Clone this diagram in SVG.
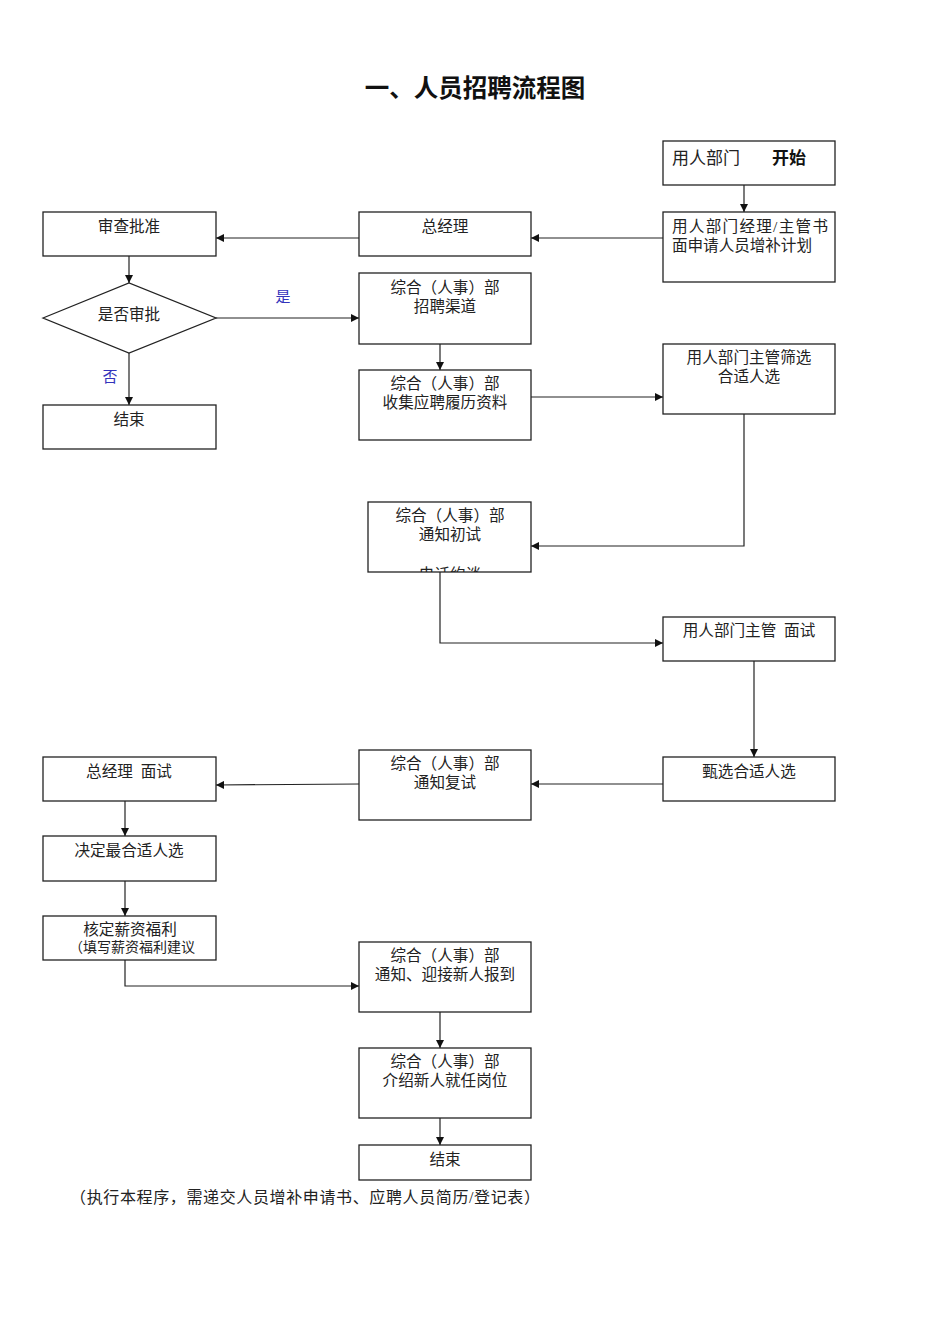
<svg xmlns="http://www.w3.org/2000/svg" width="950" height="1344" viewBox="0 0 950 1344">
<style>
.box{fill:#fff;stroke:#222;stroke-width:1.3}
.t{font-family:"Liberation Serif","Noto Sans CJK SC",serif;font-size:15.6px;fill:#222;text-anchor:middle}
.ln{fill:none;stroke:#222;stroke-width:1.2}
.lbl{font-family:"Liberation Serif","Noto Sans CJK SC",serif;font-size:15px;fill:#3333bb;text-anchor:middle}
</style>
<defs>
<marker id="ah" viewBox="0 0 10 10" refX="10" refY="5" markerWidth="8" markerHeight="8" markerUnits="userSpaceOnUse" orient="auto">
<path d="M0,0 L10,5 L0,10 z" fill="#111"/>
</marker>
<clipPath id="c1"><rect x="368" y="502" width="163" height="70"/></clipPath>
</defs>
<rect width="950" height="1344" fill="#fff"/>
<text x="475" y="97" style="font-family:'Liberation Serif','Noto Sans CJK SC',serif;font-size:24.5px;font-weight:bold;fill:#111" text-anchor="middle">一、人员招聘流程图</text>

<g id="connectors">
<line class="ln" x1="744" y1="185" x2="744" y2="212" marker-end="url(#ah)"/>
<line class="ln" x1="663" y1="238" x2="531" y2="238" marker-end="url(#ah)"/>
<line class="ln" x1="359" y1="238" x2="216" y2="238" marker-end="url(#ah)"/>
<line class="ln" x1="129" y1="256" x2="129" y2="283" marker-end="url(#ah)"/>
<line class="ln" x1="216" y1="318" x2="359" y2="318" marker-end="url(#ah)"/>
<line class="ln" x1="129" y1="353" x2="129" y2="405" marker-end="url(#ah)"/>
<line class="ln" x1="440" y1="344" x2="440" y2="370" marker-end="url(#ah)"/>
<line class="ln" x1="531" y1="397" x2="663" y2="397" marker-end="url(#ah)"/>
<polyline class="ln" points="744,414 744,546 531,546" marker-end="url(#ah)"/>
<polyline class="ln" points="440,572 440,643 663,643" marker-end="url(#ah)"/>
<line class="ln" x1="754" y1="661" x2="754" y2="757" marker-end="url(#ah)"/>
<line class="ln" x1="663" y1="784" x2="531" y2="784" marker-end="url(#ah)"/>
<line class="ln" x1="359" y1="784" x2="216" y2="785" marker-end="url(#ah)"/>
<line class="ln" x1="125" y1="801" x2="125" y2="836" marker-end="url(#ah)"/>
<line class="ln" x1="125" y1="881" x2="125" y2="916" marker-end="url(#ah)"/>
<polyline class="ln" points="125,960 125,986 359,986" marker-end="url(#ah)"/>
<line class="ln" x1="440" y1="1012" x2="440" y2="1048" marker-end="url(#ah)"/>
<line class="ln" x1="440" y1="1118" x2="440" y2="1145" marker-end="url(#ah)"/>
<text class="lbl" x="283" y="302">是</text>
<text class="lbl" x="110" y="382">否</text>
</g>

<g id="start">
<rect class="box" x="663" y="141" width="172" height="44"/>
<text x="672" y="164" style="font-family:'Liberation Serif','Noto Sans CJK SC',serif;font-size:17px;fill:#222">用人部门</text>
<text x="772" y="164" style="font-family:'Liberation Sans','Noto Sans CJK SC',sans-serif;font-size:17px;font-weight:bold;fill:#111">开始</text>
</g>
<g id="apply">
<rect class="box" x="663" y="212" width="172" height="70"/>
<text class="t" x="672" y="232" style="text-anchor:start" textLength="156">用人部门经理/主管书</text>
<text class="t" x="672" y="251" style="text-anchor:start" textLength="140">面申请人员增补计划</text>
</g>
<g id="gm">
<rect class="box" x="359" y="212" width="172" height="44"/>
<text class="t" x="445" y="232">总经理</text>
</g>
<g id="review">
<rect class="box" x="43" y="212" width="173" height="44"/>
<text class="t" x="129" y="232">审查批准</text>
</g>
<g id="decision">
<polygon class="box" points="43,318 129,283 216,318 129,353"/>
<text class="t" x="129" y="320">是否审批</text>
</g>
<g id="end1">
<rect class="box" x="43" y="405" width="173" height="44"/>
<text class="t" x="129" y="425">结束</text>
</g>
<g id="channel">
<rect class="box" x="359" y="273" width="172" height="71"/>
<text class="t" x="445" y="293">综合（人事）部</text>
<text class="t" x="445" y="312">招聘渠道</text>
</g>
<g id="collect">
<rect class="box" x="359" y="370" width="172" height="70"/>
<text class="t" x="445" y="389">综合（人事）部</text>
<text class="t" x="445" y="408">收集应聘履历资料</text>
</g>
<g id="screen">
<rect class="box" x="663" y="344" width="172" height="70"/>
<text class="t" x="749" y="363">用人部门主管筛选</text>
<text class="t" x="749" y="382">合适人选</text>
</g>
<g id="notify1">
<rect class="box" x="368" y="502" width="163" height="70"/>
<text class="t" x="450" y="521">综合（人事）部</text>
<text class="t" x="450" y="540">通知初试</text>
<g clip-path="url(#c1)"><text class="t" x="450" y="580">电话约谈</text></g>
</g>
<g id="interview1">
<rect class="box" x="663" y="617" width="172" height="44"/>
<text class="t" x="749" y="636" xml:space="preserve">用人部门主管  面试</text>
</g>
<g id="select">
<rect class="box" x="663" y="757" width="172" height="44"/>
<text class="t" x="749" y="777">甄选合适人选</text>
</g>
<g id="notify2">
<rect class="box" x="359" y="750" width="172" height="70"/>
<text class="t" x="445" y="769">综合（人事）部</text>
<text class="t" x="445" y="788">通知复试</text>
</g>
<g id="interview2">
<rect class="box" x="43" y="757" width="173" height="44"/>
<text class="t" x="129" y="777" xml:space="preserve">总经理  面试</text>
</g>
<g id="decide">
<rect class="box" x="43" y="836" width="173" height="45"/>
<text class="t" x="129" y="856">决定最合适人选</text>
</g>
<g id="salary">
<rect class="box" x="43" y="916" width="173" height="44"/>
<text class="t" x="130" y="935">核定薪资福利</text>
<text class="t" x="132" y="952" style="font-size:14px">（填写薪资福利建议</text>
</g>
<g id="welcome">
<rect class="box" x="359" y="942" width="172" height="70"/>
<text class="t" x="445" y="961">综合（人事）部</text>
<text class="t" x="445" y="980">通知、迎接新人报到</text>
</g>
<g id="introduce">
<rect class="box" x="359" y="1048" width="172" height="70"/>
<text class="t" x="445" y="1067">综合（人事）部</text>
<text class="t" x="445" y="1086">介绍新人就任岗位</text>
</g>
<g id="end2">
<rect class="box" x="359" y="1145" width="172" height="35"/>
<text class="t" x="445" y="1165">结束</text>
</g>
<text x="70" y="1203" textLength="470" style="font-family:'Liberation Serif','Noto Sans CJK SC',serif;font-size:16px;fill:#222">（执行本程序，需递交人员增补申请书、应聘人员简历/登记表）</text>
</svg>
